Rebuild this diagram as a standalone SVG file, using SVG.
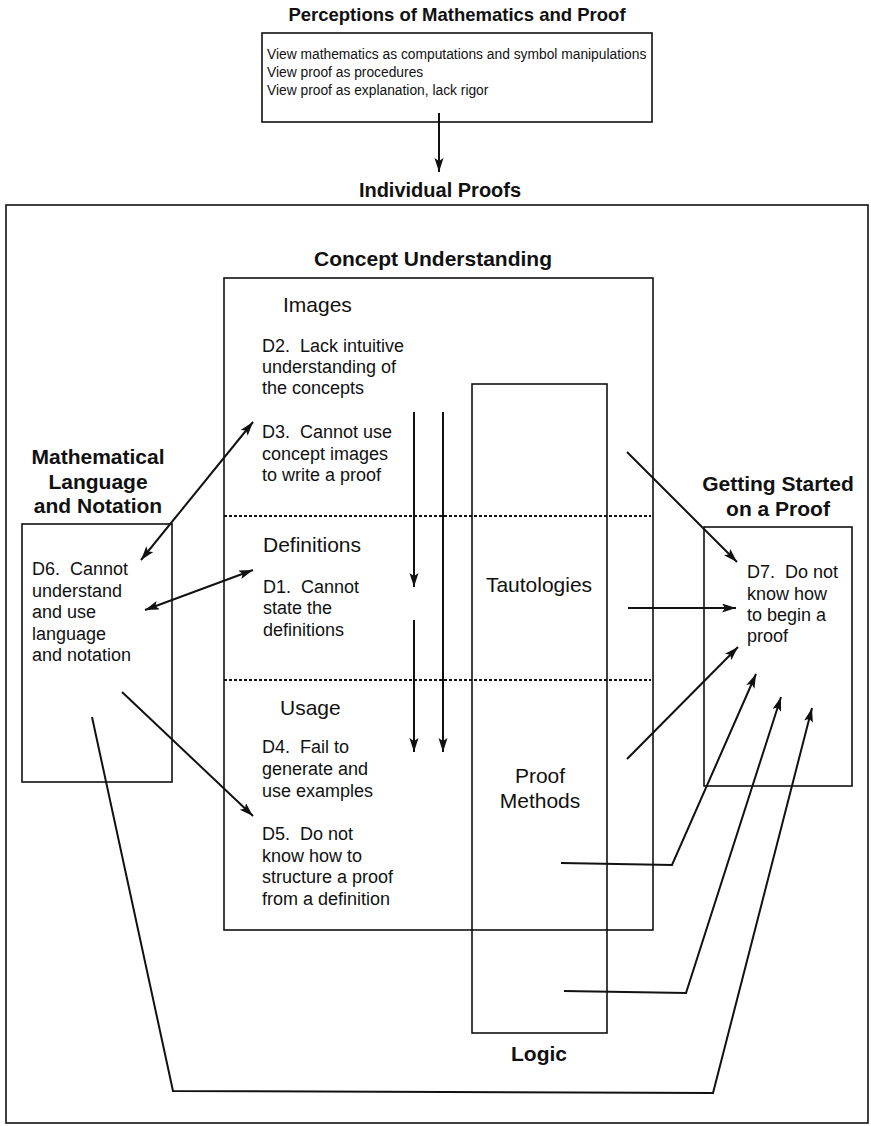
<svg xmlns="http://www.w3.org/2000/svg" width="871" height="1126" viewBox="0 0 871 1126">
<style>
text{font-family:"Liberation Sans",Arial,Helvetica,sans-serif;fill:#111;white-space:pre}
.h{font-size:21px;font-weight:bold;text-anchor:middle}
.s{font-size:21px}
.b{font-size:18px}
.t{font-size:13.8px}
.box{fill:none;stroke:#111;stroke-width:1.6}
.c{fill:none;stroke:#111;stroke-width:2}
.dot{fill:none;stroke:#111;stroke-width:2;stroke-dasharray:3 2}
</style>
<defs>
<marker id="ah" markerWidth="16" markerHeight="10" refX="14" refY="4.5" orient="auto-start-reverse" markerUnits="userSpaceOnUse">
<path d="M0,0 L14,4.5 L0,9 L3,4.5 z" fill="#111"/>
</marker>
</defs>
<rect width="871" height="1126" fill="#fff"/>

<g id="perceptions">
<text class="h" x="457" y="21" style="font-size:18.5px">Perceptions of Mathematics and Proof</text>
<rect class="box" x="262" y="33" width="390" height="89"/>
<text class="t" x="267" y="59">View mathematics as computations and symbol manipulations</text>
<text class="t" x="267" y="77">View proof as procedures</text>
<text class="t" x="267" y="95">View proof as explanation, lack rigor</text>
</g>

<g id="individual-proofs">
<text class="h" x="440" y="197" style="font-size:20px">Individual Proofs</text>
<rect class="box" x="6" y="205" width="862" height="918"/>
</g>

<g id="concept-understanding">
<text class="h" x="433" y="266">Concept Understanding</text>
<rect class="box" x="224" y="278" width="429" height="652"/>
<line class="dot" x1="224" y1="516" x2="651" y2="516"/>
<line class="dot" x1="224" y1="680" x2="651" y2="680"/>
<text class="s" x="283" y="312">Images</text>
<text class="b" x="262" y="352">D2.  Lack intuitive</text>
<text class="b" x="262" y="373">understanding of</text>
<text class="b" x="262" y="394">the concepts</text>
<text class="b" x="262" y="438">D3.  Cannot use</text>
<text class="b" x="262" y="460">concept images</text>
<text class="b" x="262" y="481">to write a proof</text>
<text class="s" x="263" y="552">Definitions</text>
<text class="b" x="263" y="593">D1.  Cannot</text>
<text class="b" x="263" y="614">state the</text>
<text class="b" x="263" y="636">definitions</text>
<text class="s" x="280" y="715">Usage</text>
<text class="b" x="262" y="753">D4.  Fail to</text>
<text class="b" x="262" y="775">generate and</text>
<text class="b" x="262" y="797">use examples</text>
<text class="b" x="262" y="840">D5.  Do not</text>
<text class="b" x="262" y="862">know how to</text>
<text class="b" x="262" y="883">structure a proof</text>
<text class="b" x="262" y="905">from a definition</text>
</g>

<g id="logic">
<rect class="box" x="472" y="384" width="135" height="649"/>
<text class="s" x="539" y="592" text-anchor="middle">Tautologies</text>
<text class="s" x="540" y="783" text-anchor="middle">Proof</text>
<text class="s" x="540" y="808" text-anchor="middle">Methods</text>
<text class="h" x="539" y="1061">Logic</text>
</g>

<g id="language">
<text class="h" x="98" y="464">Mathematical</text>
<text class="h" x="98" y="489">Language</text>
<text class="h" x="98" y="513">and Notation</text>
<rect class="box" x="22" y="524" width="150" height="258"/>
<text class="b" x="32" y="575">D6.  Cannot</text>
<text class="b" x="32" y="597">understand</text>
<text class="b" x="32" y="618">and use</text>
<text class="b" x="32" y="640">language</text>
<text class="b" x="32" y="661">and notation</text>
</g>

<g id="getting-started">
<text class="h" x="778" y="491">Getting Started</text>
<text class="h" x="778" y="516">on a Proof</text>
<rect class="box" x="704" y="527" width="148" height="259"/>
<text class="b" x="747" y="578">D7.  Do not</text>
<text class="b" x="747" y="600">know how</text>
<text class="b" x="747" y="621">to begin a</text>
<text class="b" x="747" y="642">proof</text>
</g>

<g id="connectors">
<line class="c" x1="439" y1="113" x2="439" y2="172" marker-end="url(#ah)"/>
<line class="c" x1="141" y1="560" x2="253" y2="422" marker-start="url(#ah)" marker-end="url(#ah)"/>
<line class="c" x1="145" y1="610" x2="253" y2="570" marker-start="url(#ah)" marker-end="url(#ah)"/>
<line class="c" x1="122" y1="692" x2="253" y2="816" marker-end="url(#ah)"/>
<line class="c" x1="414" y1="412" x2="414" y2="587" marker-end="url(#ah)"/>
<line class="c" x1="414" y1="620" x2="414" y2="752" marker-end="url(#ah)"/>
<line class="c" x1="443" y1="412" x2="443" y2="752" marker-end="url(#ah)"/>
<line class="c" x1="627" y1="452" x2="737" y2="562" marker-end="url(#ah)"/>
<line class="c" x1="628" y1="608" x2="736" y2="608" marker-end="url(#ah)"/>
<line class="c" x1="627" y1="759" x2="738" y2="647" marker-end="url(#ah)"/>
<polyline class="c" points="561,863 672,865 756,674" marker-end="url(#ah)"/>
<polyline class="c" points="564,991 686,993 781,697" marker-end="url(#ah)"/>
<polyline class="c" points="92,717 173,1091 713,1093 812,708" marker-end="url(#ah)"/>
</g>
</svg>
